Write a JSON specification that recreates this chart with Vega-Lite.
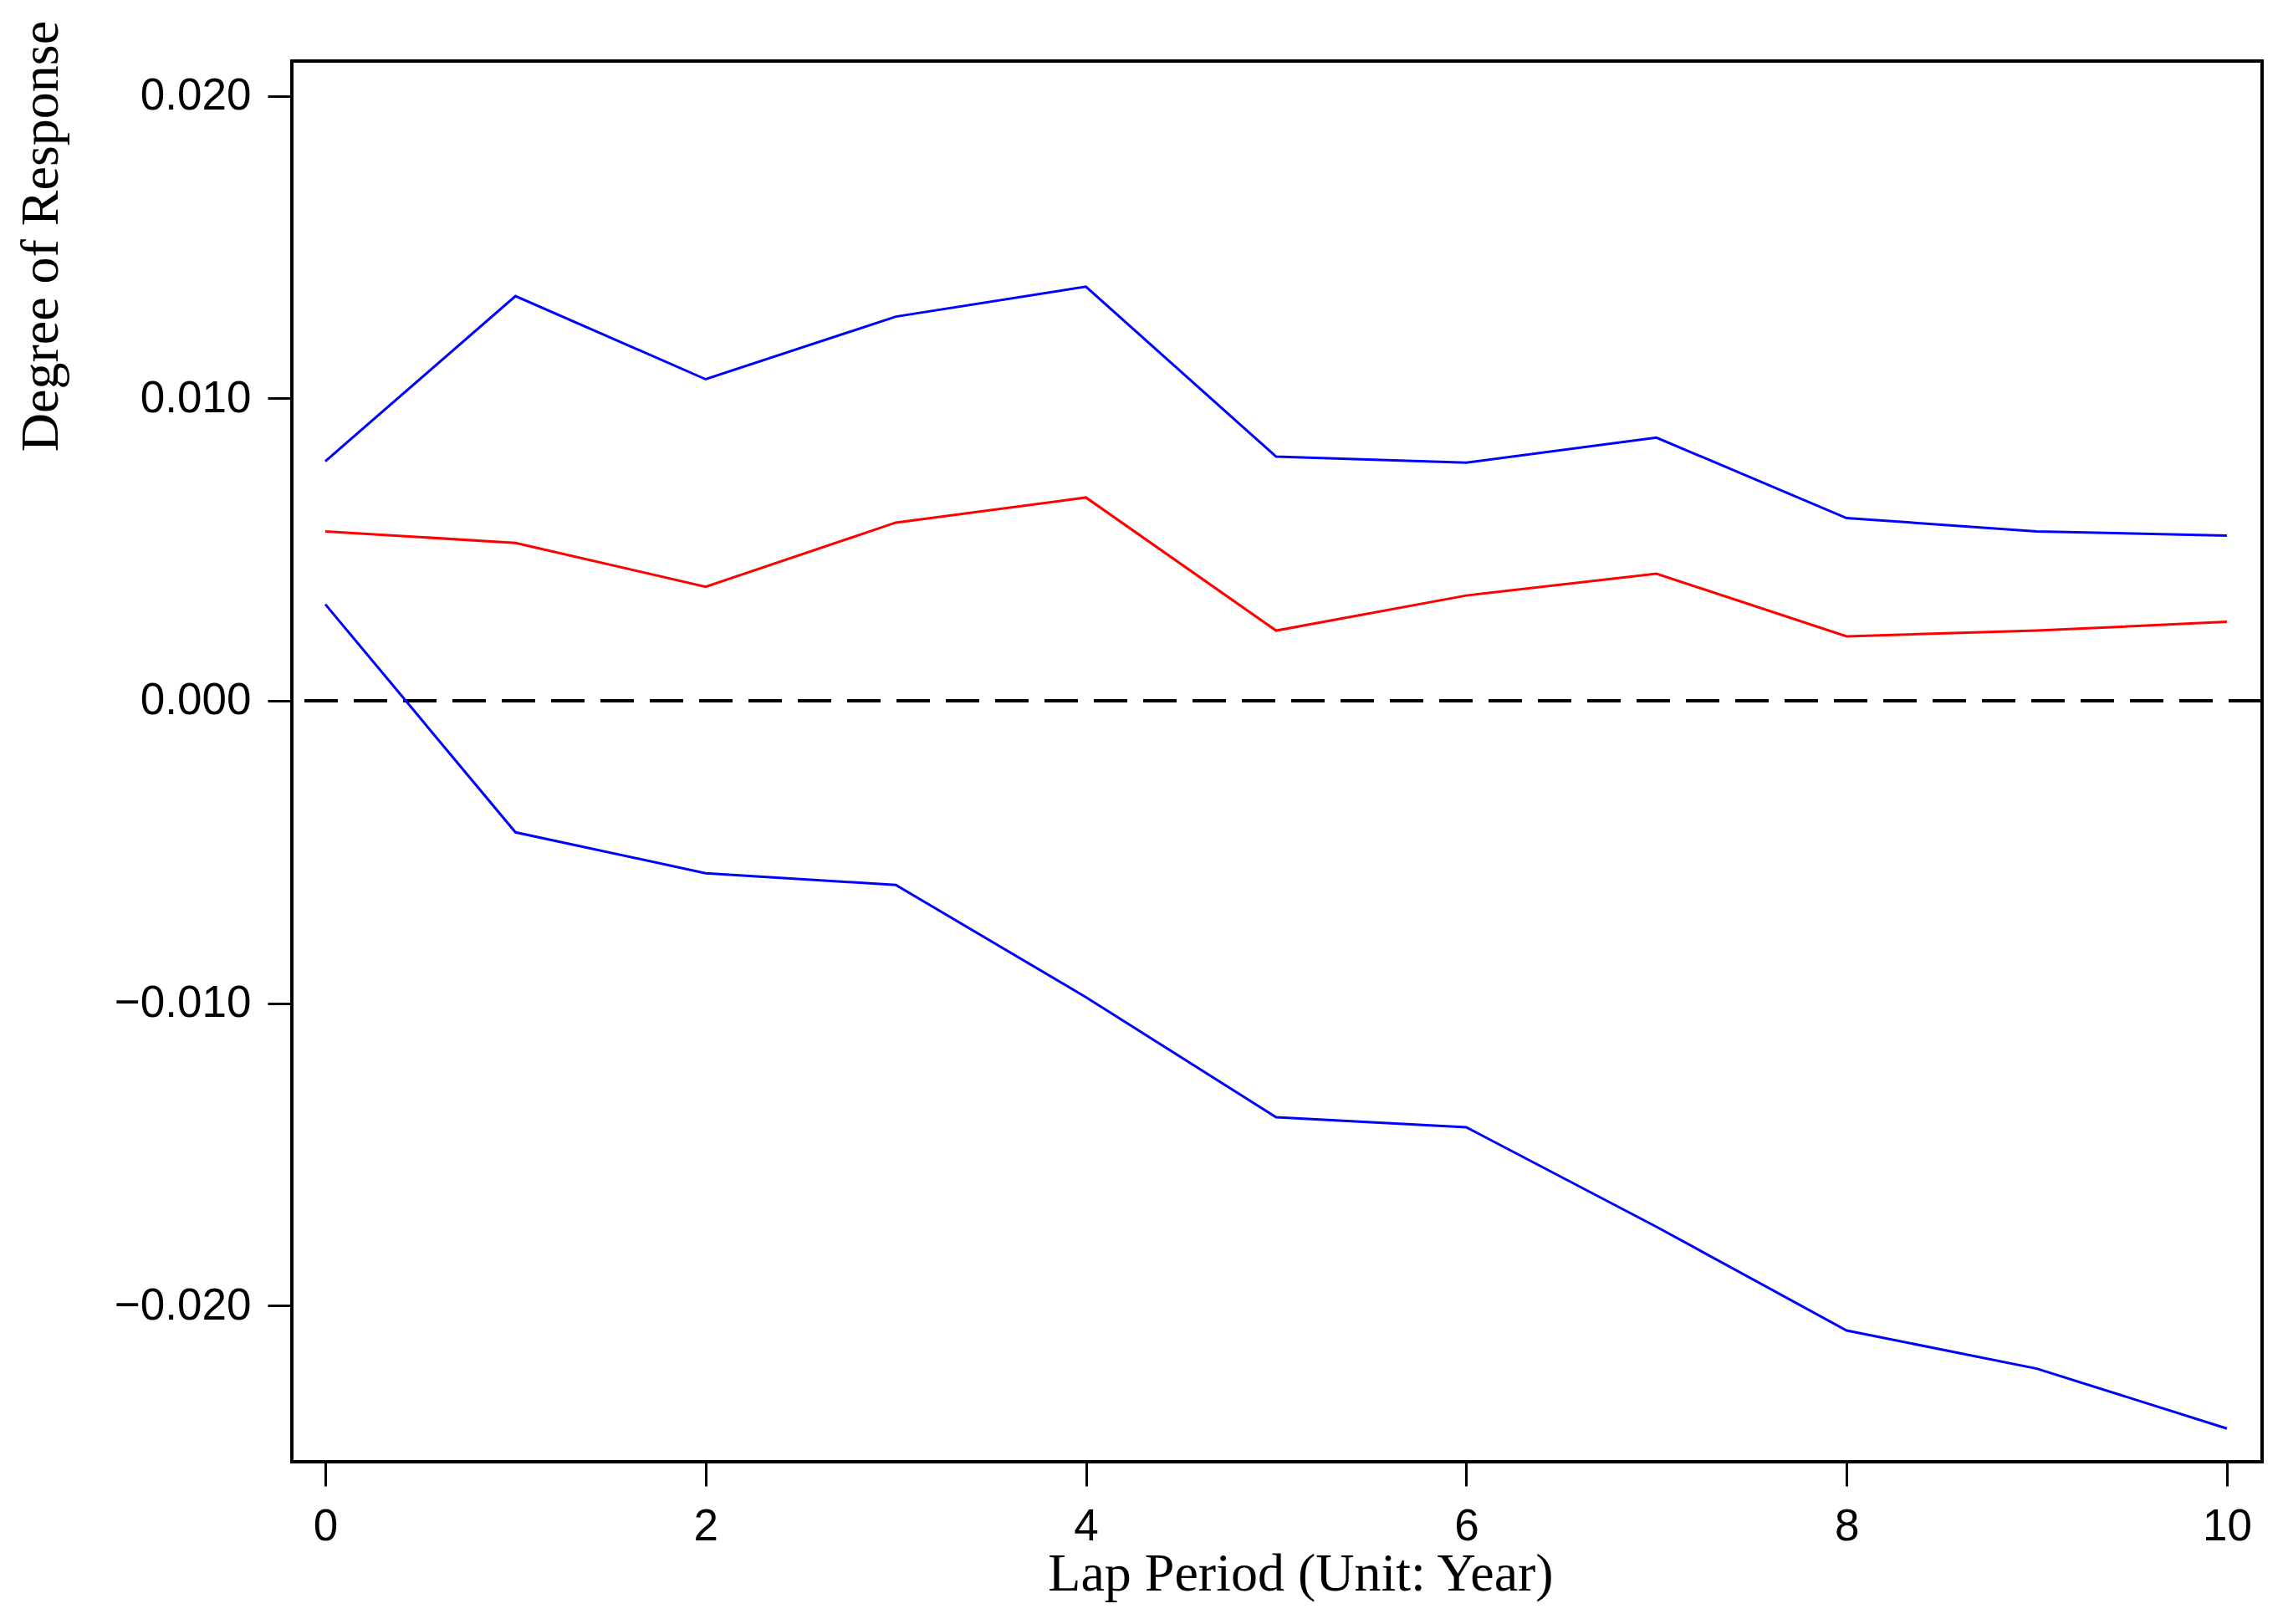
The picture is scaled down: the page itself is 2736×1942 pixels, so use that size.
{
  "$schema": "https://vega.github.io/schema/vega-lite/v6.json",
  "width": 2356,
  "height": 1675,
  "autosize": "none",
  "padding": {"left": 349, "top": 73, "right": 31, "bottom": 194},
  "background": "white",
  "config": {
    "view": {"stroke": "black", "strokeWidth": 4},
    "axis": {"grid": false, "domain": false, "tickColor": "black", "tickWidth": 3, "tickSize": 29,
      "labelFont": "Liberation Sans", "labelFontSize": 53, "labelColor": "black",
      "titleFont": "Liberation Serif", "titleFontSize": 64, "titleFontWeight": "normal", "titleColor": "black"}
  },
  "data": {"values": [
    {"x": 0, "s": "upper", "v": 0.00792}, {"x": 1, "s": "upper", "v": 0.01338}, {"x": 2, "s": "upper", "v": 0.01063},
    {"x": 3, "s": "upper", "v": 0.0127}, {"x": 4, "s": "upper", "v": 0.01369}, {"x": 5, "s": "upper", "v": 0.00807},
    {"x": 6, "s": "upper", "v": 0.00787}, {"x": 7, "s": "upper", "v": 0.0087}, {"x": 8, "s": "upper", "v": 0.00604},
    {"x": 9, "s": "upper", "v": 0.0056}, {"x": 10, "s": "upper", "v": 0.00546},
    {"x": 0, "s": "irf", "v": 0.0056}, {"x": 1, "s": "irf", "v": 0.00522}, {"x": 2, "s": "irf", "v": 0.00377},
    {"x": 3, "s": "irf", "v": 0.00589}, {"x": 4, "s": "irf", "v": 0.00672}, {"x": 5, "s": "irf", "v": 0.00232},
    {"x": 6, "s": "irf", "v": 0.00348}, {"x": 7, "s": "irf", "v": 0.0042}, {"x": 8, "s": "irf", "v": 0.00213},
    {"x": 9, "s": "irf", "v": 0.00232}, {"x": 10, "s": "irf", "v": 0.00261},
    {"x": 0, "s": "lower", "v": 0.00319}, {"x": 1, "s": "lower", "v": -0.00435}, {"x": 2, "s": "lower", "v": -0.0057},
    {"x": 3, "s": "lower", "v": -0.00609}, {"x": 4, "s": "lower", "v": -0.0098}, {"x": 5, "s": "lower", "v": -0.01377},
    {"x": 6, "s": "lower", "v": -0.0141}, {"x": 7, "s": "lower", "v": -0.01739}, {"x": 8, "s": "lower", "v": -0.02082},
    {"x": 9, "s": "lower", "v": -0.02208}, {"x": 10, "s": "lower", "v": -0.02406}
  ]},
  "layer": [
    {
      "mark": {"type": "rule", "color": "black", "strokeWidth": 3, "strokeDash": [40, 19]},
      "encoding": {"y": {"datum": 0, "type": "quantitative"}}
    },
    {
      "mark": {"type": "line", "strokeWidth": 3},
      "encoding": {
        "x": {"field": "x", "type": "quantitative",
          "scale": {"domain": [-0.176, 10.185], "nice": false, "zero": false},
          "axis": {"values": [0, 2, 4, 6, 8, 10], "title": "Lap Period (Unit: Year)", "labelPadding": 22,
            "titleX": 1206, "titleY": 134, "titleAlign": "center", "titleBaseline": "middle"}},
        "y": {"field": "v", "type": "quantitative",
          "scale": {"domain": [-0.02516, 0.02115], "nice": false, "zero": false},
          "axis": {"values": [-0.02, -0.01, 0, 0.01, 0.02], "format": ".3f", "title": "Degree of Response", "labelPadding": 20,
            "titleX": -300, "titleY": 209, "titleAngle": -90, "titleAlign": "center", "titleBaseline": "middle"}},
        "detail": {"field": "s"},
        "color": {"field": "s", "type": "nominal", "legend": null,
          "scale": {"domain": ["upper", "irf", "lower"], "range": ["#0000ff", "#ff0000", "#0000ff"]}}
      }
    }
  ]
}
